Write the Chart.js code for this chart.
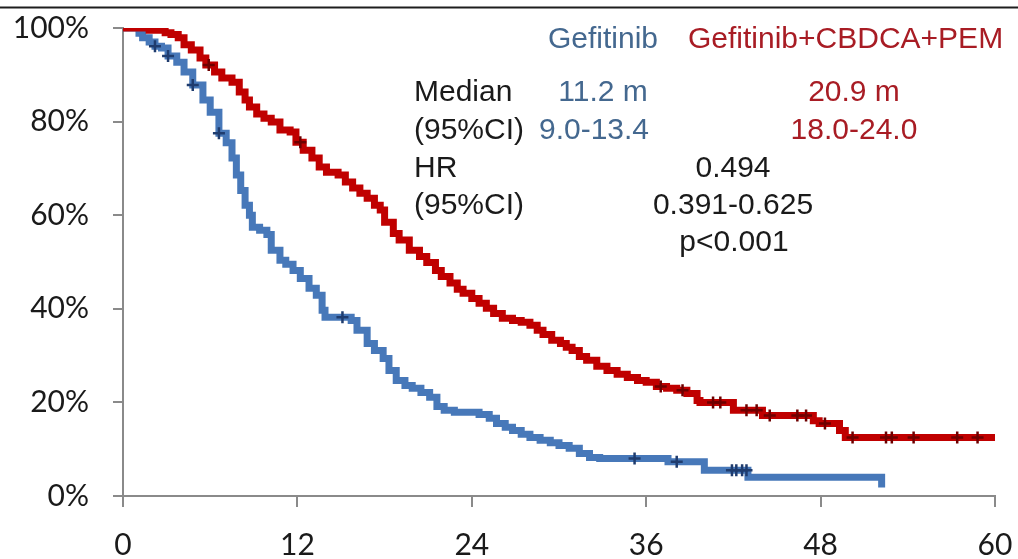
<!DOCTYPE html>
<html>
<head>
<meta charset="utf-8">
<script src="https://cdn.jsdelivr.net/npm/chart.js@4.4.1/dist/chart.umd.min.js"></script>
<style>
  html, body { margin: 0; padding: 0; background: #ffffff; }
  #c { display: block; }
</style>
</head>
<body>
<canvas id="c" width="1018" height="559"></canvas>
<script>
// Kaplan-Meier estimates: [months, survival %]
const gefitinibCurve = [
  [0, 100], [0.8, 100], [1.1, 98.9], [1.35, 97.9], [1.8, 97.0], [2.2, 96.1], [2.65, 95.7],
  [3.1, 94.0], [3.7, 92.7], [4.2, 90.6], [4.8, 87.8], [5.5, 84.6], [6.0, 82.0], [6.6, 77.5],
  [7.1, 75.5], [7.5, 72.2], [7.8, 68.6], [8.1, 65.3], [8.4, 62.1], [8.7, 60.0], [8.9, 57.4],
  [9.4, 56.8], [9.9, 55.9], [10.2, 52.5], [10.8, 50.4], [11.2, 49.5], [11.7, 48.2], [12.2, 46.5],
  [12.8, 44.4], [13.3, 42.9], [13.7, 39.7], [13.9, 38.2], [15.7, 37.5], [16.1, 35.4], [16.8, 32.6],
  [17.3, 31.1], [17.9, 29.4], [18.3, 26.8], [18.8, 24.7], [19.4, 23.6], [19.9, 23.0], [20.5, 22.1],
  [21.1, 21.1], [21.6, 19.1], [22.1, 18.3], [22.8, 17.9], [24.5, 17.4], [25.2, 16.6], [25.7, 15.5],
  [26.3, 14.7], [26.8, 14.0], [27.4, 13.2], [28.0, 12.5], [28.7, 11.9], [29.4, 11.4], [30.0, 10.8],
  [30.7, 10.2], [31.4, 9.1], [32.1, 8.2], [32.8, 8.0], [37.5, 7.3], [40.0, 5.5], [43.0, 4.0],
  [52.1, 4.0], [52.2, 1.8]
];
const comboCurve = [
  [0, 100], [1.8, 99.5], [2.9, 99.0], [3.3, 98.6], [3.8, 97.9], [4.2, 96.4], [4.7, 95.3],
  [5.3, 93.6], [5.7, 92.1], [6.3, 90.6], [6.8, 89.3], [7.5, 88.4], [8.0, 86.3], [8.4, 84.6],
  [8.7, 83.1], [9.2, 81.6], [9.7, 80.7], [10.2, 79.9], [10.8, 78.2], [11.5, 77.8], [11.9, 75.6],
  [12.4, 73.9], [13.0, 72.2], [13.5, 70.3], [14.0, 69.2], [14.8, 68.6], [15.3, 67.1], [15.8, 65.8],
  [16.3, 64.7], [16.8, 63.6], [17.3, 62.1], [17.7, 61.1], [18.0, 58.5], [18.6, 56.1], [19.0, 54.7],
  [19.7, 52.5], [20.4, 51.2], [20.9, 49.9], [21.5, 48.2], [21.9, 46.9], [22.5, 45.5], [23.0, 44.2],
  [23.4, 43.3], [24.0, 42.2], [24.5, 41.2], [25.0, 40.1], [25.5, 39.0], [26.1, 38.0], [26.8, 37.5],
  [27.4, 37.1], [28.0, 36.5], [28.5, 35.4], [28.9, 34.5], [29.5, 33.3], [30.1, 32.6], [30.5, 31.8],
  [30.9, 31.1], [31.4, 29.8], [31.9, 29.0], [32.6, 27.7], [33.3, 26.8], [34.0, 26.0], [34.7, 25.3],
  [35.4, 24.7], [36.0, 24.3], [36.7, 23.4], [37.4, 23.0], [38.1, 22.6], [38.8, 21.9], [39.5, 20.4],
  [39.7, 20.0], [42.0, 18.3], [44.0, 17.2], [47.5, 16.1], [47.9, 15.5], [49.3, 14.0], [49.7, 12.5],
  [60, 12.5]
];
// Censored observations: [months, survival %]
const gefitinibCensored = [
  [2.2, 96.1], [3.1, 94.0], [4.8, 87.8], [6.6, 77.5], [15.1, 38.2], [35.2, 8.0], [38.1, 7.3],
  [41.9, 5.5], [42.2, 5.5], [42.6, 5.5], [42.9, 5.5]
];
const comboCensored = [
  [5.9, 92.1], [12.2, 75.6], [37.0, 23.4], [38.5, 22.6], [40.6, 20.0], [41.1, 20.0], [42.9, 18.3],
  [43.6, 18.3], [44.5, 17.2], [46.4, 17.2], [47.0, 17.2], [48.3, 15.5], [50.2, 12.5], [52.5, 12.5],
  [52.9, 12.5], [54.4, 12.5], [57.4, 12.5], [58.8, 12.5]
];

const xTicks = [0, 12, 24, 36, 48, 60];
const yTicks = [0, 20, 40, 60, 80, 100];

const armNames = ['Gefitinib', 'Gefitinib+CBDCA+PEM'];
const statLabels = ['Median', '(95%CI)', 'HR', '(95%CI)'];
const medians = ['11.2 m', '20.9 m'];
const medianCIs = ['9.0-13.4', '18.0-24.0'];
const hazardRatio = '0.494';
const hazardCI = '0.391-0.625';
const pValue = 'p<0.001';

const BLUE = '#4778b9';
const RED = '#c00000';
const BLUE_TEXT = '#44688f';
const RED_TEXT = '#a81c24';
const AXIS = '#8a8a8a';

const toXY = arr => arr.map(([x, y]) => ({ x, y }));

// Summary statistics block and the thin rule along the top edge
const statsPlugin = {
  id: 'statsBlock',
  afterDraw(chart) {
    const ctx = chart.ctx;
    ctx.save();
    ctx.strokeStyle = '#1e1e1e';
    ctx.lineWidth = 2;
    ctx.beginPath();
    ctx.moveTo(0, 7.5);
    ctx.lineTo(chart.width, 7.5);
    ctx.stroke();

    ctx.font = '30px "Liberation Sans", Arial, sans-serif';
    ctx.textBaseline = 'alphabetic';
    const put = (txt, x, y, color, align) => {
      ctx.fillStyle = color;
      ctx.textAlign = align;
      ctx.fillText(txt, x, y);
    };
    put(armNames[0], 548, 48, BLUE_TEXT, 'left');
    put(armNames[1], 688, 48, RED_TEXT, 'left');

    put(statLabels[0], 414, 101, '#1a1a1a', 'left');
    put(medians[0], 603, 101, BLUE_TEXT, 'center');
    put(medians[1], 854, 101, RED_TEXT, 'center');

    put(statLabels[1], 414, 139, '#1a1a1a', 'left');
    put(medianCIs[0], 594, 139, BLUE_TEXT, 'center');
    put(medianCIs[1], 854, 139, RED_TEXT, 'center');

    put(statLabels[2], 414, 177, '#1a1a1a', 'left');
    put(hazardRatio, 733, 177, '#1a1a1a', 'center');

    put(statLabels[3], 414, 214, '#1a1a1a', 'left');
    put(hazardCI, 733, 214, '#1a1a1a', 'center');

    put(pValue, 734, 251, '#1a1a1a', 'center');
    ctx.restore();
  }
};

const tickFont = { family: 'Lato, "Open Sans", sans-serif', size: 30 };

new Chart(document.getElementById('c'), {
  type: 'line',
  data: {
    datasets: [
      {
        label: armNames[0] + ' censored',
        type: 'scatter',
        data: toXY(gefitinibCensored),
        pointStyle: 'cross',
        pointRadius: 6,
        pointBorderWidth: 2.5,
        borderColor: '#1f3c6e',
        backgroundColor: '#1f3c6e',
        showLine: false,
        order: 0
      },
      {
        label: armNames[1] + ' censored',
        type: 'scatter',
        data: toXY(comboCensored),
        pointStyle: 'cross',
        pointRadius: 6,
        pointBorderWidth: 2.5,
        borderColor: '#6e0000',
        backgroundColor: '#6e0000',
        showLine: false,
        order: 0
      },
      {
        label: armNames[1],
        data: toXY(comboCurve),
        stepped: 'before',
        borderColor: RED,
        borderWidth: 7,
        pointRadius: 0,
        fill: false,
        order: 1
      },
      {
        label: armNames[0],
        data: toXY(gefitinibCurve),
        stepped: 'before',
        borderColor: BLUE,
        borderWidth: 7,
        pointRadius: 0,
        fill: false,
        order: 2
      }
    ]
  },
  options: {
    responsive: false,
    animation: false,
    devicePixelRatio: 1,
    layout: { padding: { top: 28, right: 23, left: 0, bottom: 0 } },
    plugins: { legend: { display: false }, tooltip: { enabled: false } },
    scales: {
      x: {
        type: 'linear',
        min: 0,
        max: 60,
        afterBuildTicks(scale) { scale.ticks = xTicks.map(v => ({ value: v })); },
        afterFit(scale) {
          scale.height = 63;
          scale.paddingLeft = 0;
          scale.paddingRight = 0;
        },
        ticks: { font: tickFont, color: '#1a1a1a', padding: 20, maxRotation: 0 },
        grid: { drawOnChartArea: false, drawTicks: true, tickLength: 11, color: AXIS, lineWidth: 2 },
        border: { display: true, color: AXIS, width: 2 }
      },
      y: {
        min: 0,
        max: 100,
        afterBuildTicks(scale) { scale.ticks = yTicks.map(v => ({ value: v })); },
        afterFit(scale) {
          scale.width = 123;
          scale.paddingTop = 0;
          scale.paddingBottom = 0;
        },
        ticks: { font: tickFont, color: '#1a1a1a', padding: 24, callback: v => v + '%' },
        grid: { drawOnChartArea: false, drawTicks: true, tickLength: 10, color: AXIS, lineWidth: 2 },
        border: { display: true, color: AXIS, width: 2 }
      }
    }
  },
  plugins: [statsPlugin]
});
</script>
</body>
</html>
